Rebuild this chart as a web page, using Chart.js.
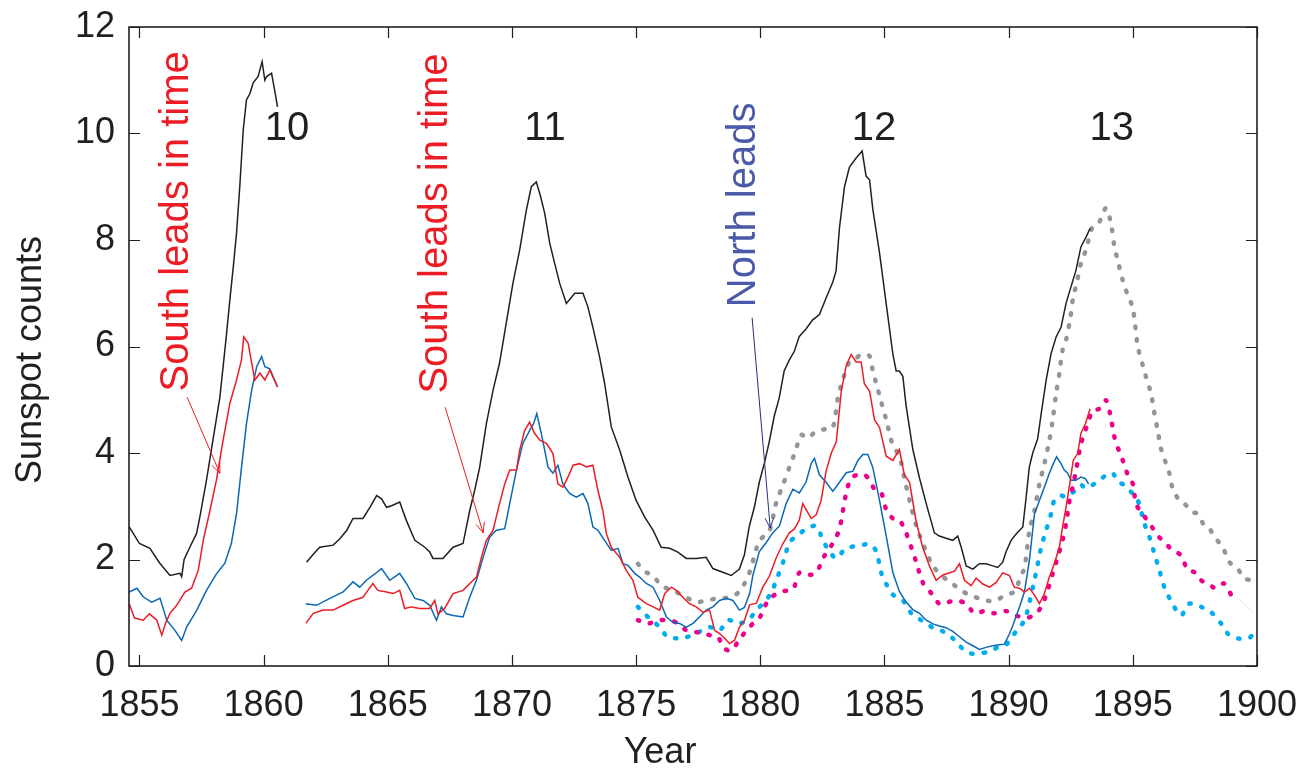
<!DOCTYPE html>
<html>
<head>
<meta charset="utf-8">
<script src="https://cdn.jsdelivr.net/npm/chart.js@4.4.1/dist/chart.umd.min.js"></script>
<style>
  html, body { margin: 0; padding: 0; background: #fff; }
  #sunspotChart { display: block; }
</style>
</head>
<body>
<canvas id="sunspotChart" width="1302" height="768"></canvas>
<script>
  // axis ticks
  const xTicks = [1855, 1860, 1865, 1870, 1875, 1880, 1885, 1890, 1895, 1900];
  const yTicks = [0, 2, 4, 6, 8, 10, 12];

  // total (black), cycle 10 part and cycles 11-13 part
  const totalYearsA = [1854.59, 1855.0, 1855.42, 1855.82, 1856.23, 1856.63, 1856.7, 1856.8, 1857.03, 1857.3, 1857.43, 1857.7, 1857.96, 1858.24, 1858.5, 1858.64, 1858.78, 1858.91, 1859.04, 1859.18, 1859.31, 1859.45, 1859.58, 1859.78, 1859.94, 1860.05, 1860.12, 1860.32, 1860.45, 1860.56];
  const totalValsA  = [2.61, 2.30, 2.21, 1.93, 1.70, 1.74, 1.68, 2.0, 2.23, 2.49, 2.79, 3.49, 4.24, 5.05, 6.2, 6.87, 7.5, 8.13, 9.0, 10.07, 10.63, 10.75, 10.95, 11.07, 11.35, 11.0, 11.07, 11.13, 10.8, 10.5];
  const totalYearsB = [1861.73, 1862.0, 1862.26, 1862.8, 1863.07, 1863.35, 1863.6, 1864.0, 1864.28, 1864.55, 1864.75, 1864.95, 1865.15, 1865.48, 1865.75, 1866.09, 1866.49, 1866.69, 1866.82, 1867.22, 1867.63, 1868.03, 1868.3, 1868.5, 1868.7, 1868.97, 1869.24, 1869.5, 1869.77, 1870.04, 1870.31, 1870.58, 1870.78, 1870.98, 1871.14, 1871.32, 1871.52, 1871.72, 1871.92, 1872.19, 1872.53, 1872.86, 1873.06, 1873.26, 1873.53, 1873.73, 1874.0, 1874.34, 1874.67, 1875.0, 1875.34, 1875.68, 1876.01, 1876.35, 1876.68, 1877.02, 1877.42, 1877.82, 1878.09, 1878.49, 1878.83, 1879.16, 1879.36, 1879.56, 1879.76, 1879.96, 1880.16, 1880.36, 1880.56, 1880.76, 1880.96, 1881.16, 1881.37, 1881.57, 1881.84, 1882.11, 1882.38, 1882.65, 1882.92, 1883.05, 1883.19, 1883.39, 1883.59, 1883.86, 1884.1, 1884.26, 1884.4, 1884.53, 1884.8, 1885.07, 1885.34, 1885.47, 1885.6, 1885.74, 1885.87, 1886.14, 1886.41, 1886.68, 1887.01, 1887.21, 1887.48, 1887.75, 1887.95, 1888.09, 1888.29, 1888.56, 1888.82, 1889.09, 1889.36, 1889.56, 1889.76, 1889.9, 1890.1, 1890.3, 1890.57, 1890.7, 1890.83, 1890.97, 1891.17, 1891.31, 1891.51, 1891.71, 1891.91, 1892.11, 1892.31, 1892.51, 1892.71, 1892.91, 1893.12, 1893.28];
  const totalValsB  = [1.95, 2.1, 2.23, 2.27, 2.39, 2.55, 2.77, 2.77, 2.98, 3.2, 3.14, 2.98, 3.01, 3.08, 2.73, 2.36, 2.23, 2.14, 2.02, 2.02, 2.23, 2.3, 2.92, 3.3, 3.73, 4.55, 5.18, 5.69, 6.44, 7.19, 7.81, 8.56, 9.0, 9.09, 8.84, 8.5, 7.94, 7.56, 7.19, 6.81, 7.0, 7.0, 6.74, 6.36, 5.80, 5.31, 4.49, 4.05, 3.55, 3.11, 2.8, 2.55, 2.23, 2.21, 2.14, 2.02, 2.02, 2.04, 1.83, 1.76, 1.70, 1.82, 2.09, 2.63, 2.98, 3.45, 3.80, 4.21, 4.69, 5.03, 5.54, 5.74, 5.91, 6.19, 6.33, 6.50, 6.60, 6.91, 7.21, 7.42, 8.24, 9.0, 9.37, 9.54, 9.67, 9.2, 9.13, 8.58, 7.76, 6.80, 5.85, 5.54, 5.54, 5.44, 4.89, 4.07, 3.53, 3.05, 2.50, 2.44, 2.40, 2.36, 2.44, 2.23, 1.88, 1.82, 1.92, 1.92, 1.88, 1.85, 1.95, 2.15, 2.36, 2.48, 2.61, 3.15, 3.73, 4.0, 4.27, 4.74, 5.37, 5.87, 6.18, 6.36, 6.81, 7.12, 7.43, 7.87, 8.06, 8.22];

  // south hemisphere (red)
  const southYearsA = [1854.59, 1854.8, 1855.15, 1855.4, 1855.7, 1855.9, 1856.05, 1856.23, 1856.5, 1856.83, 1857.1, 1857.37, 1857.57, 1857.84, 1858.1, 1858.37, 1858.64, 1858.91, 1859.11, 1859.2, 1859.38, 1859.52, 1859.65, 1859.85, 1860.05, 1860.25, 1860.56];
  const southValsA  = [1.17, 0.9, 0.86, 0.98, 0.86, 0.58, 0.80, 0.99, 1.14, 1.39, 1.46, 1.80, 2.36, 2.92, 3.49, 4.24, 4.93, 5.37, 5.75, 6.18, 6.06, 5.69, 5.37, 5.5, 5.37, 5.56, 5.24];
  const southYearsB = [1861.7, 1862.0, 1862.4, 1862.8, 1863.2, 1863.6, 1864.0, 1864.2, 1864.4, 1864.6, 1864.95, 1865.21, 1865.48, 1865.68, 1865.95, 1866.29, 1866.69, 1866.89, 1867.02, 1867.29, 1867.63, 1868.03, 1868.3, 1868.57, 1868.77, 1868.97, 1869.24, 1869.5, 1869.71, 1869.91, 1870.18, 1870.31, 1870.51, 1870.71, 1870.91, 1871.12, 1871.39, 1871.65, 1871.85, 1872.05, 1872.26, 1872.46, 1872.73, 1873.0, 1873.26, 1873.46, 1873.66, 1873.8, 1874.0, 1874.34, 1874.6, 1874.87, 1875.07, 1875.41, 1875.68, 1875.95, 1876.15, 1876.42, 1876.62, 1876.88, 1877.15, 1877.42, 1877.69, 1877.96, 1878.16, 1878.36, 1878.56, 1878.76, 1878.96, 1879.16, 1879.36, 1879.57, 1879.84, 1880.1, 1880.36, 1880.63, 1880.9, 1881.17, 1881.37, 1881.57, 1881.71, 1881.84, 1882.05, 1882.25, 1882.45, 1882.65, 1882.86, 1883.06, 1883.26, 1883.46, 1883.66, 1883.86, 1884.06, 1884.19, 1884.4, 1884.6, 1884.8, 1885.07, 1885.34, 1885.6, 1885.8, 1886.01, 1886.28, 1886.54, 1886.81, 1887.08, 1887.35, 1887.62, 1887.82, 1888.02, 1888.22, 1888.49, 1888.69, 1888.96, 1889.23, 1889.5, 1889.76, 1890.03, 1890.23, 1890.43, 1890.64, 1890.84, 1891.04, 1891.24, 1891.44, 1891.64, 1891.84, 1892.04, 1892.17, 1892.31, 1892.44, 1892.6, 1892.78, 1892.91, 1893.09, 1893.28];
  const southValsB  = [0.80, 0.99, 1.05, 1.05, 1.14, 1.23, 1.29, 1.42, 1.55, 1.42, 1.39, 1.36, 1.42, 1.08, 1.11, 1.08, 1.08, 1.23, 0.98, 1.08, 1.36, 1.42, 1.55, 1.67, 2.04, 2.36, 2.55, 3.05, 3.42, 3.68, 3.68, 4.05, 4.42, 4.58, 4.37, 4.24, 4.18, 3.99, 3.42, 3.36, 3.55, 3.77, 3.80, 3.74, 3.77, 3.30, 2.92, 2.49, 2.23, 2.04, 1.80, 1.61, 1.29, 1.17, 1.11, 1.05, 1.36, 1.48, 1.42, 1.29, 1.17, 1.11, 1.01, 1.05, 0.67, 0.61, 0.52, 0.42, 0.48, 0.73, 0.85, 1.15, 1.18, 1.48, 1.68, 2.02, 2.29, 2.50, 2.57, 2.74, 3.05, 2.94, 2.77, 2.84, 3.11, 3.66, 4.00, 4.21, 5.16, 5.64, 5.85, 5.71, 5.71, 5.30, 5.16, 4.62, 4.48, 3.94, 3.86, 4.07, 3.59, 3.45, 2.70, 2.23, 1.88, 1.61, 1.71, 1.75, 1.78, 1.92, 1.61, 1.51, 1.65, 1.54, 1.48, 1.57, 1.75, 1.70, 1.48, 1.46, 1.39, 1.46, 1.33, 1.17, 1.36, 1.67, 1.92, 2.23, 2.61, 2.98, 3.36, 3.86, 3.99, 4.37, 4.55, 4.83];

  // north hemisphere (blue)
  const northYearsA = [1854.59, 1854.9, 1855.15, 1855.49, 1855.83, 1856.1, 1856.43, 1856.7, 1856.9, 1857.3, 1857.7, 1858.1, 1858.44, 1858.7, 1858.91, 1859.11, 1859.31, 1859.52, 1859.72, 1859.92, 1860.05, 1860.25, 1860.56];
  const northValsA  = [1.39, 1.46, 1.30, 1.20, 1.27, 0.86, 0.67, 0.48, 0.73, 1.04, 1.42, 1.73, 1.93, 2.30, 2.86, 3.73, 4.55, 5.18, 5.62, 5.81, 5.62, 5.58, 5.24];
  const northYearsB = [1861.7, 1862.13, 1862.67, 1863.2, 1863.6, 1863.87, 1864.14, 1864.4, 1864.75, 1865.08, 1865.48, 1865.75, 1866.09, 1866.42, 1866.69, 1866.96, 1867.16, 1867.36, 1867.63, 1868.03, 1868.3, 1868.57, 1868.84, 1869.1, 1869.37, 1869.71, 1869.91, 1870.18, 1870.44, 1870.71, 1870.87, 1871.0, 1871.18, 1871.32, 1871.45, 1871.65, 1871.85, 1872.05, 1872.32, 1872.59, 1872.86, 1873.06, 1873.26, 1873.46, 1873.73, 1874.0, 1874.27, 1874.47, 1874.67, 1874.94, 1875.14, 1875.41, 1875.68, 1875.95, 1876.22, 1876.48, 1876.75, 1877.02, 1877.29, 1877.55, 1877.82, 1878.09, 1878.36, 1878.63, 1878.9, 1879.16, 1879.36, 1879.57, 1879.7, 1879.96, 1880.24, 1880.5, 1880.77, 1881.04, 1881.31, 1881.57, 1881.84, 1882.05, 1882.18, 1882.38, 1882.65, 1882.92, 1883.19, 1883.46, 1883.73, 1883.93, 1884.13, 1884.33, 1884.53, 1884.8, 1885.07, 1885.34, 1885.6, 1885.87, 1886.14, 1886.41, 1886.68, 1886.95, 1887.21, 1887.48, 1887.75, 1888.02, 1888.29, 1888.56, 1888.82, 1889.09, 1889.36, 1889.63, 1889.83, 1890.03, 1890.16, 1890.43, 1890.64, 1890.84, 1891.04, 1891.24, 1891.44, 1891.64, 1891.8, 1891.93, 1892.11, 1892.24, 1892.38, 1892.51, 1892.71, 1892.91, 1893.09, 1893.22];
  const northValsB  = [1.17, 1.14, 1.27, 1.39, 1.58, 1.48, 1.61, 1.70, 1.83, 1.61, 1.74, 1.55, 1.27, 1.23, 1.14, 0.86, 1.11, 0.98, 0.95, 0.92, 1.29, 1.61, 2.04, 2.42, 2.55, 2.58, 3.05, 3.68, 4.18, 4.42, 4.55, 4.74, 4.37, 4.05, 3.74, 3.62, 3.77, 3.42, 3.24, 3.17, 3.24, 3.05, 2.61, 2.55, 2.36, 2.17, 2.21, 1.92, 1.89, 1.74, 1.67, 1.55, 1.48, 1.23, 0.92, 0.82, 0.80, 0.73, 0.80, 0.92, 1.05, 1.11, 1.23, 1.27, 1.23, 1.05, 1.10, 1.36, 1.70, 2.15, 2.32, 2.50, 2.63, 3.05, 3.32, 3.25, 3.45, 3.80, 3.90, 3.59, 3.45, 3.28, 3.45, 3.63, 3.66, 3.86, 3.97, 3.97, 3.73, 3.11, 2.44, 1.75, 1.40, 1.20, 1.06, 0.99, 0.86, 0.79, 0.75, 0.72, 0.65, 0.55, 0.45, 0.38, 0.31, 0.35, 0.38, 0.40, 0.41, 0.6, 0.75, 1.1, 1.4, 2.0, 2.86, 3.11, 3.36, 3.62, 3.80, 3.93, 3.80, 3.68, 3.62, 3.49, 3.49, 3.55, 3.52, 3.42];

  // dotted curves from 1875 on
  const totalDotYears = [1875.07, 1875.41, 1875.68, 1876.01, 1876.48, 1877.02, 1877.42, 1877.82, 1878.29, 1878.76, 1879.16, 1879.56, 1879.96, 1880.36, 1880.63, 1880.9, 1881.17, 1881.44, 1881.64, 1881.91, 1882.25, 1882.65, 1882.92, 1883.12, 1883.32, 1883.59, 1883.86, 1884.06, 1884.4, 1884.53, 1884.67, 1884.87, 1885.07, 1885.34, 1885.6, 1885.8, 1886.01, 1886.28, 1886.61, 1886.95, 1887.35, 1887.75, 1888.15, 1888.56, 1889.09, 1889.5, 1889.9, 1890.23, 1890.43, 1890.64, 1890.84, 1891.04, 1891.24, 1891.44, 1891.64, 1891.77, 1891.91, 1892.04, 1892.17, 1892.31, 1892.47, 1892.6, 1892.74, 1892.91, 1893.11, 1893.38, 1893.65, 1893.92, 1894.12, 1894.26, 1894.39, 1894.59, 1894.79, 1895.0, 1895.2, 1895.4, 1895.53, 1895.73, 1895.86, 1896.0, 1896.13, 1896.34, 1896.47, 1896.6, 1896.87, 1897.14, 1897.4, 1897.6, 1897.88, 1898.08, 1898.35, 1898.62, 1898.89, 1899.22, 1899.49, 1899.82, 1900.0];
  const totalDotVals  = [1.92, 1.76, 1.70, 1.51, 1.42, 1.29, 1.20, 1.23, 1.27, 1.29, 1.40, 1.75, 2.35, 2.53, 3.05, 3.39, 3.73, 4.07, 4.34, 4.28, 4.41, 4.45, 4.48, 5.03, 5.37, 5.71, 5.78, 5.85, 5.82, 5.54, 5.30, 4.96, 4.62, 4.14, 3.94, 3.53, 3.11, 2.63, 2.23, 1.88, 1.68, 1.54, 1.40, 1.31, 1.23, 1.23, 1.35, 1.39, 1.61, 1.86, 2.55, 2.92, 3.42, 3.80, 4.24, 4.61, 5.11, 5.49, 5.93, 6.12, 6.50, 6.93, 7.19, 7.56, 7.81, 8.25, 8.34, 8.60, 8.31, 7.87, 7.62, 7.25, 6.97, 6.72, 6.0, 5.65, 5.43, 5.12, 4.77, 4.43, 4.09, 3.80, 3.62, 3.34, 3.11, 3.02, 2.89, 2.86, 2.64, 2.58, 2.39, 2.23, 1.95, 1.83, 1.64, 1.62, 1.62];
  const southDotYears = [1875.07, 1875.48, 1875.95, 1876.35, 1876.68, 1877.02, 1877.49, 1877.96, 1878.29, 1878.56, 1878.83, 1879.16, 1879.5, 1879.84, 1880.0, 1880.24, 1880.5, 1880.84, 1881.31, 1881.57, 1881.91, 1882.25, 1882.52, 1882.86, 1883.06, 1883.19, 1883.32, 1883.46, 1883.66, 1883.93, 1884.2, 1884.4, 1884.6, 1884.87, 1885.07, 1885.34, 1885.6, 1885.87, 1886.08, 1886.28, 1886.54, 1886.88, 1887.21, 1887.55, 1887.88, 1888.29, 1888.62, 1889.02, 1889.42, 1889.9, 1890.3, 1890.7, 1891.1, 1891.37, 1891.57, 1891.77, 1891.97, 1892.17, 1892.31, 1892.44, 1892.58, 1892.74, 1892.88, 1893.06, 1893.19, 1893.38, 1893.65, 1893.92, 1894.12, 1894.26, 1894.46, 1894.62, 1894.83, 1895.02, 1895.12, 1895.39, 1895.73, 1896.0, 1896.27, 1896.6, 1896.94, 1897.21, 1897.48, 1897.75, 1898.02, 1898.34, 1898.67, 1899.01];
  const southDotVals  = [0.86, 0.80, 0.86, 0.86, 0.80, 0.67, 0.63, 0.58, 0.54, 0.33, 0.29, 0.50, 0.70, 0.86, 0.93, 1.17, 1.31, 1.40, 1.44, 1.75, 1.71, 1.75, 2.02, 2.26, 2.43, 2.57, 2.90, 3.25, 3.53, 3.59, 3.59, 3.49, 3.32, 3.25, 2.94, 2.77, 2.74, 2.50, 2.23, 1.95, 1.57, 1.37, 1.17, 1.20, 1.23, 1.17, 0.99, 1.03, 0.99, 1.03, 0.95, 0.90, 0.98, 1.17, 1.42, 1.73, 2.04, 2.36, 2.67, 3.08, 3.36, 3.74, 4.11, 4.39, 4.55, 4.80, 4.83, 4.99, 4.65, 4.30, 4.02, 3.83, 3.55, 3.40, 3.05, 2.86, 2.64, 2.45, 2.33, 2.17, 2.08, 1.80, 1.76, 1.61, 1.55, 1.46, 1.55, 1.29];
  const northDotYears = [1875.07, 1875.54, 1875.88, 1876.28, 1876.62, 1877.02, 1877.49, 1877.96, 1878.36, 1878.69, 1879.16, 1879.57, 1879.84, 1880.16, 1880.43, 1880.7, 1880.97, 1881.17, 1881.44, 1881.84, 1882.25, 1882.52, 1882.79, 1883.06, 1883.32, 1883.59, 1884.0, 1884.4, 1884.67, 1884.87, 1885.07, 1885.34, 1885.74, 1886.08, 1886.48, 1886.95, 1887.35, 1887.75, 1888.02, 1888.42, 1888.82, 1889.23, 1889.56, 1889.9, 1890.3, 1890.64, 1890.84, 1891.04, 1891.31, 1891.51, 1891.71, 1891.84, 1892.11, 1892.31, 1892.51, 1892.71, 1892.91, 1893.11, 1893.38, 1893.65, 1893.92, 1894.19, 1894.39, 1894.66, 1894.93, 1895.13, 1895.27, 1895.47, 1895.67, 1895.87, 1896.07, 1896.27, 1896.6, 1896.94, 1897.27, 1897.75, 1898.15, 1898.55, 1898.82, 1899.22, 1899.66, 1899.82];
  const northDotVals  = [1.11, 0.89, 0.76, 0.54, 0.52, 0.54, 0.63, 0.73, 0.67, 0.86, 0.80, 0.89, 1.05, 1.20, 1.37, 1.68, 2.02, 2.32, 2.43, 2.57, 2.63, 2.36, 2.15, 2.02, 2.15, 2.23, 2.26, 2.29, 2.15, 1.75, 1.54, 1.34, 1.23, 0.99, 0.86, 0.72, 0.65, 0.52, 0.38, 0.24, 0.24, 0.27, 0.35, 0.40, 0.65, 0.86, 1.20, 1.61, 2.23, 2.55, 2.86, 3.11, 3.20, 3.17, 3.24, 3.30, 3.40, 3.34, 3.40, 3.49, 3.58, 3.62, 3.46, 3.40, 3.27, 3.17, 3.02, 2.67, 2.42, 2.11, 1.80, 1.48, 1.17, 0.95, 1.17, 1.11, 1.01, 0.80, 0.61, 0.52, 0.52, 0.58];

  // faint trace near the right edge
  const faintYears = [1899.3, 1899.6, 1899.85];
  const faintVals  = [1.25, 1.12, 1.0];

  const FONT = "'Liberation Sans', Arial, Helvetica, sans-serif";
  const INK = '#231f20';

  // texts and arrows, in data units
  const cycleLabels = [
    { text: '10', x: 1860.94, y: 10.08 },
    { text: '11', x: 1871.33, y: 10.08 },
    { text: '12', x: 1884.58, y: 10.08 },
    { text: '13', x: 1894.15, y: 10.08 }
  ];
  const sideNotes = [
    { text: 'South leads in time', x: 1856.96, y: 8.35, color: '#ed1c24' },
    { text: 'South leads in time', x: 1867.40, y: 8.31, color: '#ed1c24' },
    { text: 'North leads', x: 1879.78, y: 8.66, color: '#4a5aa8' }
  ];
  const arrows = [
    { x0: 1856.92, y0: 5.05, x1: 1858.24, y1: 3.62, color: '#ed1c24' },
    { x0: 1867.31, y0: 4.86, x1: 1868.84, y1: 2.50, color: '#ed1c24' },
    { x0: 1879.67, y0: 6.54, x1: 1880.40, y1: 2.59, color: '#262d84' }
  ];

  function toPoints(years, vals) {
    return years.map((yr, i) => ({ x: yr, y: vals[i] }));
  }

  function solid(years, vals, color) {
    return {
      data: toPoints(years, vals),
      borderColor: color,
      borderWidth: 1.5,
      pointRadius: 0,
      tension: 0,
      order: 0
    };
  }

  function dotted(years, vals, color) {
    return {
      data: toPoints(years, vals),
      borderColor: color,
      borderWidth: 4.5,
      borderDash: [1.5, 11],
      borderCapStyle: 'round',
      pointRadius: 0,
      tension: 0.3,
      order: 1
    };
  }

  // keep the plot box where the reference has it
  function noScalePadding(s) {
    s.paddingLeft = 0;
    s.paddingRight = 0;
    s.paddingTop = 0;
    s.paddingBottom = 0;
  }

  const boxPlugin = {
    id: 'boxPlugin',
    afterDraw(chart) {
      const ctx = chart.ctx;
      const a = chart.chartArea;
      const xs = chart.scales.x;
      const ys = chart.scales.y;
      ctx.save();

      // frame with inward ticks on all sides
      ctx.strokeStyle = INK;
      ctx.lineWidth = 1.6;
      ctx.strokeRect(a.left, a.top, a.right - a.left, a.bottom - a.top);
      ctx.lineWidth = 1.2;
      ctx.beginPath();
      xTicks.forEach(v => {
        const px = Math.round(xs.getPixelForValue(v)) + 0.5;
        ctx.moveTo(px, a.bottom); ctx.lineTo(px, a.bottom - 11);
        ctx.moveTo(px, a.top); ctx.lineTo(px, a.top + 11);
      });
      yTicks.forEach(v => {
        const py = Math.round(ys.getPixelForValue(v)) + 0.5;
        ctx.moveTo(a.left, py); ctx.lineTo(a.left + 11, py);
        ctx.moveTo(a.right, py); ctx.lineTo(a.right - 11, py);
      });
      ctx.stroke();

      // axis titles
      ctx.fillStyle = INK;
      ctx.font = '36px ' + FONT;
      ctx.textAlign = 'center';
      ctx.textBaseline = 'alphabetic';
      ctx.fillText('Year', 660, 763);
      ctx.save();
      ctx.translate(41, 360);
      ctx.rotate(-Math.PI / 2);
      ctx.fillText('Sunspot counts', 0, 0);
      ctx.restore();

      // cycle numbers
      ctx.font = '40px ' + FONT;
      ctx.textBaseline = 'middle';
      cycleLabels.forEach(l => {
        ctx.fillText(l.text, xs.getPixelForValue(l.x), ys.getPixelForValue(l.y));
      });

      // rotated notes
      ctx.textBaseline = 'alphabetic';
      sideNotes.forEach(n => {
        ctx.save();
        ctx.fillStyle = n.color;
        ctx.translate(xs.getPixelForValue(n.x), ys.getPixelForValue(n.y));
        ctx.rotate(-Math.PI / 2);
        ctx.fillText(n.text, 0, 0);
        ctx.restore();
      });

      // arrows
      arrows.forEach(ar => {
        const x0 = xs.getPixelForValue(ar.x0), y0 = ys.getPixelForValue(ar.y0);
        const x1 = xs.getPixelForValue(ar.x1), y1 = ys.getPixelForValue(ar.y1);
        const ang = Math.atan2(y1 - y0, x1 - x0);
        ctx.strokeStyle = ar.color;
        ctx.lineWidth = 1;
        ctx.beginPath();
        ctx.moveTo(x0, y0); ctx.lineTo(x1, y1);
        ctx.moveTo(x1 - 11 * Math.cos(ang - 0.4), y1 - 11 * Math.sin(ang - 0.4));
        ctx.lineTo(x1, y1);
        ctx.lineTo(x1 - 11 * Math.cos(ang + 0.4), y1 - 11 * Math.sin(ang + 0.4));
        ctx.stroke();
      });
      ctx.restore();
    }
  };

  const sunspotChart = new Chart(document.getElementById('sunspotChart'), {
    type: 'line',
    data: {
      datasets: [
        solid(totalYearsA, totalValsA, INK),
        solid(totalYearsB, totalValsB, INK),
        solid(southYearsA, southValsA, '#ed1c24'),
        solid(southYearsB, southValsB, '#ed1c24'),
        solid(northYearsA, northValsA, '#0a68b4'),
        solid(northYearsB, northValsB, '#0a68b4'),
        dotted(totalDotYears, totalDotVals, '#939598'),
        dotted(southDotYears, southDotVals, '#ec008c'),
        dotted(northDotYears, northDotVals, '#00aeef'),
        { data: toPoints(faintYears, faintVals), borderColor: 'rgba(225,150,150,0.35)', borderWidth: 1, pointRadius: 0, order: 2 }
      ]
    },
    options: {
      responsive: false,
      animation: false,
      devicePixelRatio: 1,
      layout: { padding: { left: 0, top: 27, right: 45, bottom: 0 } },
      plugins: {
        legend: { display: false },
        tooltip: { enabled: false }
      },
      scales: {
        x: {
          type: 'linear',
          min: 1854.58,
          max: 1900,
          grid: { display: false, drawTicks: false },
          border: { display: false },
          afterBuildTicks: s => { s.ticks = xTicks.map(v => ({ value: v })); },
          afterFit: s => { s.height = 102; noScalePadding(s); },
          ticks: {
            font: { family: FONT, size: 36 },
            color: INK,
            padding: 18,
            maxRotation: 0,
            autoSkip: false,
            callback: v => String(v)
          }
        },
        y: {
          min: 0,
          max: 12,
          grid: { display: false, drawTicks: false },
          border: { display: false },
          afterBuildTicks: s => { s.ticks = yTicks.map(v => ({ value: v })); },
          afterFit: s => { s.width = 129; noScalePadding(s); },
          ticks: {
            font: { family: FONT, size: 36 },
            color: INK,
            padding: 14,
            callback: v => String(v)
          }
        }
      }
    },
    plugins: [boxPlugin]
  });
</script>
</body>
</html>
